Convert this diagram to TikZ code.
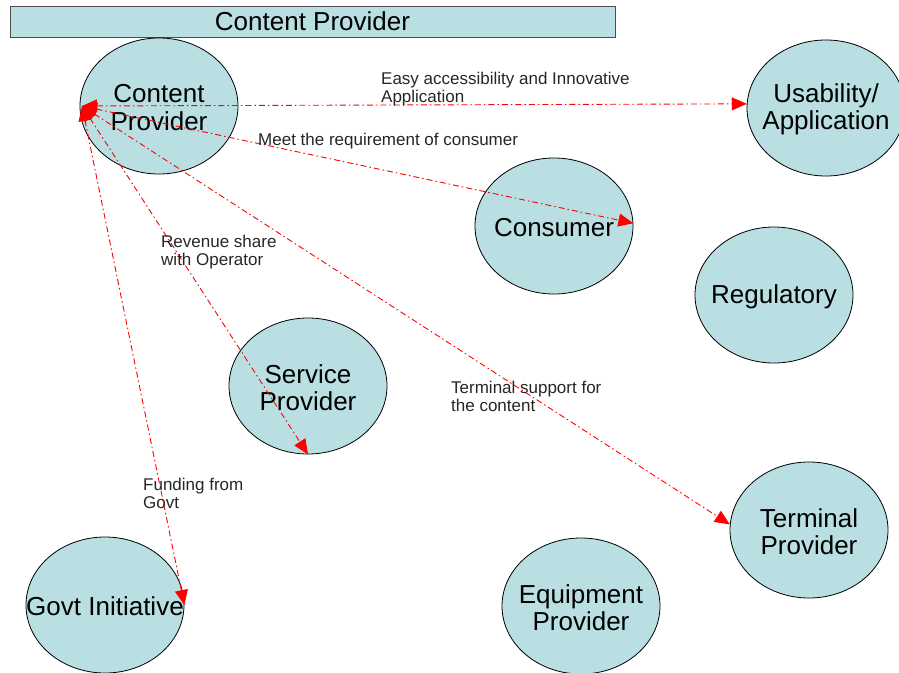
\documentclass[tikz,border=0pt]{standalone}
\usepackage{fontspec}
\setmainfont{Liberation Sans}
\usetikzlibrary{shapes.geometric,arrows.meta}
\definecolor{bubblue}{RGB}{185,223,227}
\definecolor{linkred}{RGB}{255,0,0}
\begin{document}
\begin{tikzpicture}[x=1pt, y=-1pt,
    bubble/.style={ellipse, draw=black, line width=0.8pt, fill=bubblue,
      minimum width=158pt, minimum height=136pt, inner sep=0pt,
      label={[align=center, yshift=-1.5pt, font=\fontsize{26}{27.5}\selectfont]center:#1}},
    link/.style={linkred, line width=0.9pt, {Triangle[length=15pt,width=13pt]}-{Triangle[length=15pt,width=13pt]},
      dash pattern=on 6pt off 3pt on 1.5pt off 3pt},
    note/.style={anchor=west, align=left, inner sep=0pt, text=black!85,
      font=\fontsize{17}{18}\selectfont}]
    \useasboundingbox (0,0) rectangle (899,672);
    % banner
    \node[draw=black!70, line width=0.8pt, fill=bubblue, minimum width=605pt, minimum height=31pt,
      inner sep=0pt, font=\fontsize{26}{27.5}\selectfont] (banner) at (312.5,21.5) {Content Provider};
    % actors
    \node[bubble={Content\\Provider}] (cp) at (159,106) {};
    \node[bubble={Usability/\\Application}] (usab) at (826,108) {};
    \node[bubble={Consumer}] (cons) at (554,226) {};
    \node[bubble={Regulatory}] (reg) at (774,295) {};
    \node[bubble={Service\\Provider}] (svc) at (308,386) {};
    \node[bubble={Terminal\\Provider}] (term) at (809,530) {};
    \node[bubble={Equipment\\Provider}] (equip) at (581,606) {};
    \node[bubble={Govt Initiative}] (govt) at (105,605) {};
    % links from content provider
    \coordinate (hub) at (82,106);
    \draw[link] (hub) -- (usab.177);
    \draw[link] (hub) -- (cons.2);
    \draw[link] (hub) -- (svc.south);
    \draw[link] (hub) -- (term.176);
    \draw[link] (hub) -- (govt.east);
    % notes
    \node[note] (easy) at (381,89) {Easy accessibility and Innovative\\Application};
    \node[note] (meet) at (258,141) {Meet the requirement of consumer};
    \node[note] (rev) at (161,252) {Revenue share\\with Operator};
    \node[note] (termnote) at (451,396) {Terminal support for\\the content};
    \node[note] (fund) at (143,493) {Funding from\\Govt};
\end{tikzpicture}
\end{document}
